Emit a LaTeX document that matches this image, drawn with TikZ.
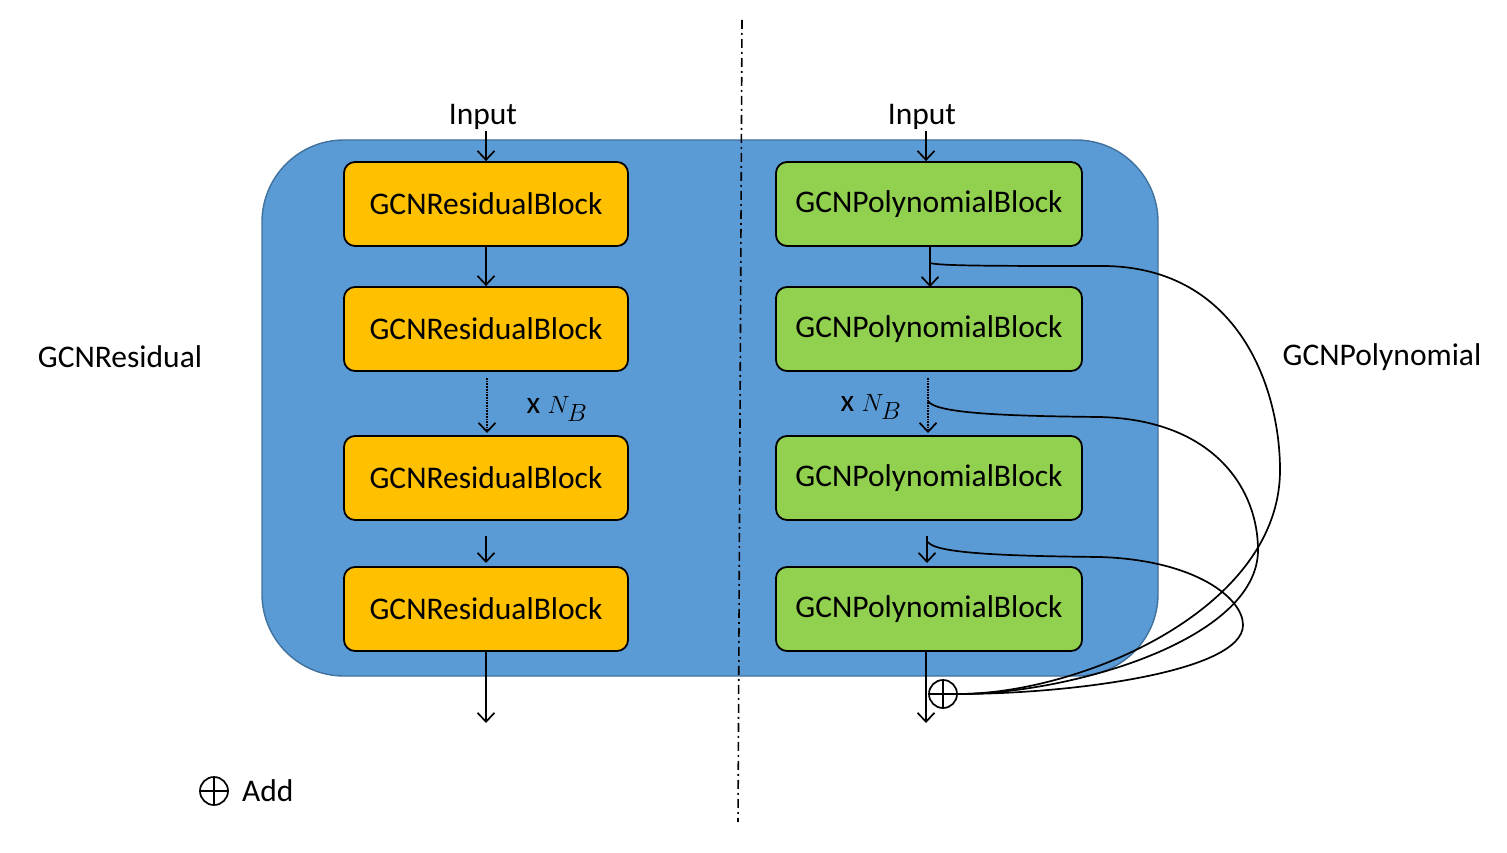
\documentclass[tikz,border=0pt]{standalone}
\usepackage{fontspec}
\setmainfont{Carlito}
\usetikzlibrary{arrows.meta}
\definecolor{cblue}{HTML}{5B9BD5}
\definecolor{cblueb}{HTML}{41719C}
\definecolor{corange}{HTML}{FFC000}
\definecolor{cgreen}{HTML}{92D050}
\tikzset{
  blk/.style={draw=black, line width=1.8pt, rounded corners=11pt, minimum height=84pt, inner sep=0pt, font=\fontsize{31.5}{34}\selectfont},
  resblk/.style={blk, fill=corange, minimum width=284pt},
  polblk/.style={blk, fill=cgreen, minimum width=306pt},
  arr/.style={line width=1.7pt, -{Straight Barb[length=9pt,width=17pt,line width=1.7pt]}},
  darr/.style={arr, densely dotted},
  lbl/.style={font=\fontsize{31.5}{34}\selectfont, inner sep=0pt},
  skip/.style={line width=1.7pt},
  addc/.style={circle, draw=black, line width=1.7pt, minimum size=28pt, inner sep=0pt,
     path picture={\draw[line width=1.7pt] (path picture bounding box.north) -- (path picture bounding box.south)
                   (path picture bounding box.west) -- (path picture bounding box.east);}}
}
\begin{document}
\begin{tikzpicture}[x=1pt,y=-1pt]
\useasboundingbox (0,0) rectangle (1507,853);
% container
\draw[fill=cblue, draw=cblueb, line width=1.4pt, rounded corners=82pt] (262,140) rectangle (1158,676);
% divider
\draw[line width=1.6pt, dash pattern=on 9pt off 4pt on 2pt off 4pt] (742,20) -- (738,822);
% labels
\node[lbl] (inL) at (483,117) {Input};
\node[lbl] (inR) at (922,117) {Input};
\node[lbl] (gres) at (120,357) {GCNResidual};
\node[lbl] (gpol) at (1382,357) {GCNPolynomial};
\node[lbl] (nbL) at (557,409) {x {\fontsize{35}{38}\selectfont$N_B$}};
\node[lbl] (nbR) at (871,407) {x {\fontsize{35}{38}\selectfont$N_B$}};
% left blocks
\node[resblk] (r1) at (486,204) {GCNResidualBlock};
\node[resblk] (r2) at (486,329) {GCNResidualBlock};
\node[resblk] (r3) at (486,478) {GCNResidualBlock};
\node[resblk] (r4) at (486,609) {GCNResidualBlock};
% right blocks
\node[polblk] (p1) at (929,204) {GCNPolynomialBlock};
\node[polblk] (p2) at (929,329) {GCNPolynomialBlock};
\node[polblk] (p3) at (929,478) {GCNPolynomialBlock};
\node[polblk] (p4) at (929,609) {GCNPolynomialBlock};
% coordinates
\coordinate (lin) at (486,131);
\coordinate (ld1) at (487,378);
\coordinate (ld2) at (487,433);
\coordinate (la1) at (486,536);
\coordinate (la2) at (486,563);
\coordinate (lout) at (486,723);
\coordinate (rin) at (926,131);
\coordinate (rs1) at (930,246);
\coordinate (rs1e) at (930,287);
\coordinate (rd1) at (928,378);
\coordinate (rd2) at (928,433);
\coordinate (ra1) at (927,536);
\coordinate (ra2) at (927,563);
\coordinate (rtop) at (926,651);
\coordinate (rout) at (926,723);
\coordinate (c1) at (930,263);
\coordinate (c2) at (928,401);
\coordinate (c3) at (928,542);
% left arrows
\draw[arr] (lin) -- (r1.north -| lin);
\draw[arr] (r1.south) -- (r2.north);
\draw[darr] (ld1) -- (ld2);
\draw[arr] (la1) -- (la2);
\draw[arr] (r4.south) -- (lout);
% right arrows
\draw[arr] (rin) -- (p1.north -| rin);
\draw[arr] (rs1) -- (rs1e);
\draw[darr] (rd1) -- (rd2);
\draw[arr] (ra1) -- (ra2);
\draw[arr] (rtop) -- (rout);
% add
\node[addc] (add) at (943,694) {};
% skip curves
\draw[skip] (c1) .. controls (940,266) and (1000,266) .. (1105,266)
  .. controls (1240,268) and (1280,390) .. (1280,470)
  .. controls (1280,610) and (1080,694) .. (add.east);
\draw[skip] (c2) .. controls (935,413) and (1000,416) .. (1100,417)
  .. controls (1215,420) and (1258,490) .. (1258,550)
  .. controls (1258,640) and (1070,694) .. (add.east);
\draw[skip] (c3) .. controls (935,553) and (1000,556) .. (1100,557)
  .. controls (1195,560) and (1243,598) .. (1243,625)
  .. controls (1243,672) and (1070,694) .. (add.east);
% legend
\node[addc] (addleg) at (214,791) {};
\node[lbl, anchor=west] (addtxt) at (242,791) {Add};
\end{tikzpicture}
\end{document}
